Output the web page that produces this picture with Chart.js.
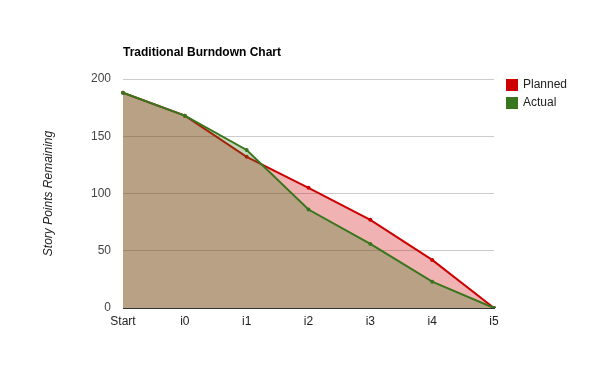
<!DOCTYPE html>
<html>
<head>
<meta charset="utf-8">
<script src="https://cdn.jsdelivr.net/npm/chart.js@4"></script>
<style>
  html, body { margin: 0; padding: 0; background: #fff; }
  #wrap { width: 600px; height: 371px; }
</style>
</head>
<body>
<div id="wrap"><canvas id="burndownChart" width="600" height="371"></canvas></div>
<script>
const iterations = ['Start', 'i0', 'i1', 'i2', 'i3', 'i4', 'i5'];
const planned = [188, 168, 132, 105, 77, 42, 0];
const actual = [188, 168, 138, 86, 56, 23, 0];
const yTicks = [0, 50, 100, 150, 200];

const chartTitle = 'Traditional Burndown Chart';
const yTitle = 'Story Points Remaining';

// title, y-axis title and legend drawn by hand so they sit where google put them
const decorations = {
    id: 'decorations',
    afterDraw(chart) {
        const ctx = chart.ctx;
        const area = chart.chartArea;
        ctx.save();
        ctx.fillStyle = '#000';
        ctx.font = 'bold 12px Arial, "Liberation Sans"';
        ctx.textBaseline = 'middle';
        ctx.textAlign = 'left';
        ctx.fillText(chartTitle, area.left, 53);

        ctx.translate(49, (area.top + area.bottom) / 2);
        ctx.rotate(-Math.PI / 2);
        ctx.textAlign = 'center';
        ctx.fillStyle = '#222';
        ctx.font = 'italic 12px Arial, "Liberation Sans"';
        ctx.fillText(yTitle, 0, 0);
        ctx.restore();

        ctx.save();
        ctx.font = '12px Arial, "Liberation Sans"';
        ctx.textBaseline = 'middle';
        ctx.textAlign = 'left';
        chart.data.datasets.forEach(function (ds, i) {
            const y = 85 + i * 18;
            ctx.fillStyle = ds.borderColor;
            ctx.fillRect(506, y - 6, 12, 12);
            ctx.fillStyle = '#222';
            ctx.fillText(ds.label, 523, y);
        });
        ctx.restore();
    }
};

const ctx = document.getElementById('burndownChart').getContext('2d');
new Chart(ctx, {
    type: 'line',
    data: {
        labels: iterations,
        datasets: [{
            label: 'Planned',
            data: planned,
            borderColor: '#cc0000',
            backgroundColor: 'rgba(204, 0, 0, 0.3)',
            pointBackgroundColor: '#cc0000',
            borderWidth: 2,
            pointRadius: 2,
            pointBorderWidth: 0,
            fill: 'origin',
            tension: 0,
            order: 1
        }, {
            label: 'Actual',
            data: actual,
            borderColor: '#38761d',
            backgroundColor: 'rgba(56, 118, 29, 0.3)',
            pointBackgroundColor: '#38761d',
            borderWidth: 2,
            pointRadius: 2,
            pointBorderWidth: 0,
            fill: 'origin',
            tension: 0,
            order: 0
        }]
    },
    options: {
        responsive: false,
        animation: false,
        layout: { padding: { left: 0, top: 79, right: 106, bottom: 0 } },
        plugins: {
            legend: { display: false },
            title: { display: false },
            tooltip: { enabled: false }
        },
        scales: {
            x: {
                offset: false,
                grid: { display: false, drawTicks: false },
                border: { display: true, color: '#333', width: 1 },
                ticks: {
                    color: '#222',
                    font: { family: 'Arial, "Liberation Sans"', size: 12 },
                    padding: 6,
                    maxRotation: 0,
                    autoSkip: false
                },
                afterFit(scale) { scale.height = 63; }
            },
            y: {
                min: 0,
                max: 200,
                afterBuildTicks(scale) {
                    scale.ticks = yTicks.map(v => ({ value: v }));
                },
                grid: {
                    drawTicks: false,
                    color: c => c.tick && c.tick.value === 0 ? '#333' : '#cccccc',
                    lineWidth: 1
                },
                border: { display: false },
                ticks: {
                    color: '#444',
                    font: { family: 'Arial, "Liberation Sans"', size: 12 },
                    padding: 12
                },
                afterFit(scale) { scale.width = 123; }
            }
        }
    },
    plugins: [decorations]
});
</script>
</body>
</html>
